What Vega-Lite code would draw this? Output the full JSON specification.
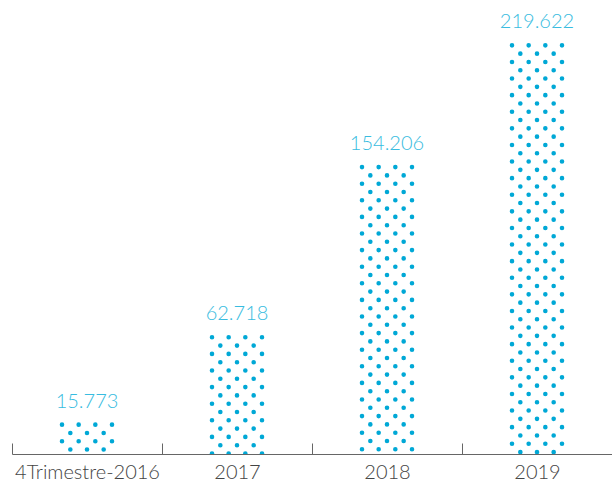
{
  "$schema": "https://vega.github.io/schema/vega-lite/v6.json",
  "width": 600,
  "height": 454,
  "autosize": {"type": "none"},
  "padding": {"left": 12, "top": 0, "right": 0, "bottom": 31},
  "background": "white",
  "config": {"view": {"stroke": null}},
  "data": {"values": [
    {"periodo": "4Trimestre-2016", "valor": 15.773, "etiqueta": "15.773"},
    {"periodo": "2017", "valor": 62.718, "etiqueta": "62.718"},
    {"periodo": "2018", "valor": 154.206, "etiqueta": "154.206"},
    {"periodo": "2019", "valor": 219.622, "etiqueta": "219.622"}
  ]},
  "encoding": {
    "x": {
      "field": "periodo", "type": "nominal", "sort": null,
      "scale": {"paddingInner": 0, "paddingOuter": 0},
      "axis": {
        "title": null, "labelAngle": 0, "zindex": 1,
        "domainColor": "#666666", "domainWidth": 1,
        "tickColor": "#666666", "tickWidth": 1, "tickSize": -11, "tickBand": "extent",
        "labelFont": "Lato", "labelFontWeight": 300, "labelFontSize": 20, "labelColor": "#444444",
        "labelPadding": 19
      }
    },
    "y": {"field": "valor", "type": "quantitative", "scale": {"domain": [0, 244], "nice": false}, "axis": null}
  },
  "layer": [
    {"mark": {"type": "rule", "xOffset": -25, "strokeDash": [0, 16.6], "strokeDashOffset": 0, "strokeCap": "round", "strokeWidth": 4.6, "color": "#00a8d6", "clip": true},
     "encoding": {"y2": {"datum": 0}}},
    {"mark": {"type": "rule", "xOffset": -16.67, "strokeDash": [0, 16.6], "strokeDashOffset": 8.3, "strokeCap": "round", "strokeWidth": 4.6, "color": "#00a8d6", "clip": true},
     "encoding": {"y2": {"datum": 0}}},
    {"mark": {"type": "rule", "xOffset": -8.33, "strokeDash": [0, 16.6], "strokeDashOffset": 0, "strokeCap": "round", "strokeWidth": 4.6, "color": "#00a8d6", "clip": true},
     "encoding": {"y2": {"datum": 0}}},
    {"mark": {"type": "rule", "xOffset": 0, "strokeDash": [0, 16.6], "strokeDashOffset": 8.3, "strokeCap": "round", "strokeWidth": 4.6, "color": "#00a8d6", "clip": true},
     "encoding": {"y2": {"datum": 0}}},
    {"mark": {"type": "rule", "xOffset": 8.33, "strokeDash": [0, 16.6], "strokeDashOffset": 0, "strokeCap": "round", "strokeWidth": 4.6, "color": "#00a8d6", "clip": true},
     "encoding": {"y2": {"datum": 0}}},
    {"mark": {"type": "rule", "xOffset": 16.67, "strokeDash": [0, 16.6], "strokeDashOffset": 8.3, "strokeCap": "round", "strokeWidth": 4.6, "color": "#00a8d6", "clip": true},
     "encoding": {"y2": {"datum": 0}}},
    {"mark": {"type": "rule", "xOffset": 25, "strokeDash": [0, 16.6], "strokeDashOffset": 0, "strokeCap": "round", "strokeWidth": 4.6, "color": "#00a8d6", "clip": true},
     "encoding": {"y2": {"datum": 0}}},
    {"mark": {"type": "text", "font": "Lato", "fontWeight": 300, "fontSize": 20, "color": "#38bce0", "baseline": "middle", "dy": -23},
     "encoding": {"text": {"field": "etiqueta"}}}
  ]
}
